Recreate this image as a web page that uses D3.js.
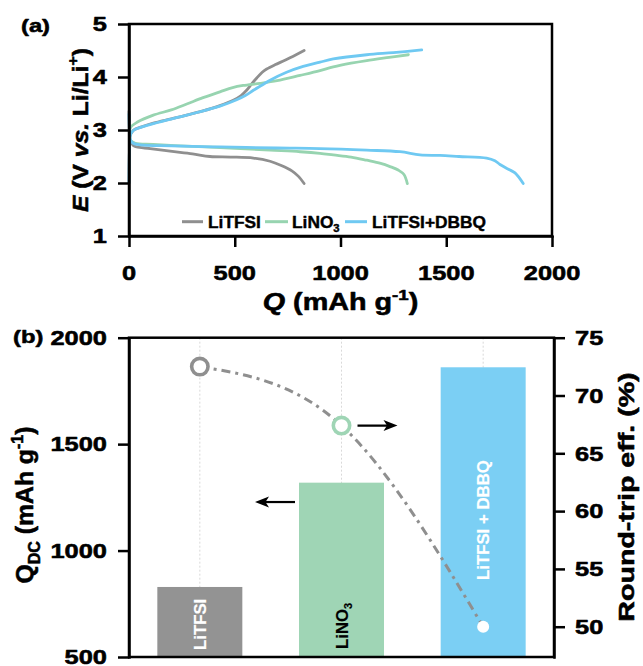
<!DOCTYPE html>
<html><head><meta charset="utf-8">
<script src="https://cdn.jsdelivr.net/npm/d3@7"></script>
<style>
body{margin:0;background:#fff}
svg{display:block}
text{font-family:"Liberation Sans",Arial,Helvetica,sans-serif;font-weight:700;fill:#000}
</style>
</head><body>
<svg id="chart" width="643" height="666"></svg>
<script>
// ---------------- DATA ----------------
// panel (a): E vs Q curves, [Q (mAh/g), E (V)]
const qTicks = [0, 500, 1000, 1500, 2000];
const eTicks = [1, 2, 3, 4, 5];
const seriesNames = ["LiTFSI", "LiNO3", "LiTFSI+DBBQ"];

const litfsiCharge = [[0,2.0],[2,2.6],[5,2.88],[20,2.99],[60,3.06],[115,3.13],[200,3.21],[273,3.28],[350,3.36],[430,3.46],[493,3.56],[530,3.65],[556,3.75],[580,3.87],[604,3.98],[630,4.09],[651,4.15],[690,4.23],[740,4.32],[790,4.42],[828,4.5]];
const litfsiDischarge = [[0,3.35],[2,3.0],[6,2.8],[20,2.71],[36,2.68],[100,2.65],[194,2.6],[300,2.55],[383,2.5],[480,2.49],[588,2.47],[667,2.41],[720,2.33],[770,2.23],[800,2.13],[828,1.99]];

const lino3Charge = [[2,2.9],[8,3.05],[40,3.15],[115,3.28],[200,3.38],[273,3.49],[350,3.61],[430,3.72],[490,3.8],[540,3.84],[620,3.88],[700,3.93],[809,4.03],[903,4.12],[966,4.19],[1050,4.26],[1124,4.31],[1230,4.37],[1321,4.42]];
const lino3Discharge = [[2,2.95],[8,2.8],[30,2.75],[115,2.73],[300,2.69],[430,2.67],[667,2.62],[809,2.59],[903,2.56],[966,2.53],[1050,2.49],[1124,2.43],[1190,2.37],[1234,2.31],[1275,2.24],[1300,2.16],[1316,1.99]];

const dbbqCharge = [[0,2.0],[2,2.6],[5,2.88],[20,2.99],[115,3.12],[273,3.28],[430,3.45],[509,3.57],[550,3.65],[588,3.75],[630,3.85],[667,3.94],[745,4.09],[809,4.18],[903,4.28],[966,4.34],[1124,4.42],[1250,4.46],[1384,4.51]];
const dbbqDischarge = [[0,3.3],[2,3.0],[6,2.82],[20,2.75],[52,2.72],[200,2.7],[430,2.68],[700,2.66],[903,2.65],[1124,2.62],[1281,2.59],[1376,2.53],[1470,2.52],[1560,2.5],[1691,2.47],[1730,2.42],[1754,2.35],[1794,2.26],[1825,2.19],[1864,1.99]];

// panel (b)
const electrolytes = ["LiTFSI", "LiNO3", "LiTFSI + DBBQ"];
const dischargeCapacity = [829, 1319, 1861];   // mAh/g
const roundTripEff = [72.5, 67.4, 50.0];        // %
const capTicks = [500, 1000, 1500, 2000];
const effTicks = [50, 55, 60, 65, 70, 75];

// ---------------- STYLE ----------------
const lineColors = ["#8f8f8f", "#97d4b0", "#6fc9f2"];
const barColors  = ["#939393", "#9fd5b5", "#7bcff4"];
const SX = 1.27; // horizontal glyph stretch of the original font

const svg = d3.select("#chart");

function rich(sel, parts, size) {
  let shift = 0;
  parts.forEach(p => {
    const ts = sel.append("tspan").text(p.t);
    let target = 0, fs = size;
    if (p.sup) { target = -0.42 * size; fs = size * 0.65; }
    if (p.sub) { target = 0.28 * size; fs = size * 0.65; }
    ts.attr("font-size", fs).attr("dy", target - shift);
    if (p.italic) ts.attr("font-style", "italic");
    shift = target;
  });
  return sel;
}
function label(x, y, parts, size, opts = {}) {
  const s = opts.sx || SX;
  const rot = opts.rotate ? ` rotate(${opts.rotate})` : "";
  const fill = opts.fill || "#000";
  const t = svg.append("text")
    .attr("x", 0).attr("y", 0)
    .attr("text-anchor", opts.anchor || "middle")
    .attr("font-size", size)
    .attr("font-weight", "bold")
    .attr("transform", `translate(${x},${y})${rot} scale(${s},1)`)
    .style("fill", fill)
    .style("stroke", fill)
    .style("stroke-width", opts.sw === undefined ? 0.55 : opts.sw)
    .style("stroke-linejoin", "round");
  if (typeof parts === "string") t.text(parts); else rich(t, parts, size);
  return t;
}

// ================= PANEL (a) =================
const ax = { l: 129, r: 552, t: 24, b: 236 };
const xQ = d3.scaleLinear().domain([0, 2000]).range([ax.l, ax.r]);
const yE = d3.scaleLinear().domain([1, 5]).range([ax.b, ax.t]);

const gA = svg.append("g");
const lineA = d3.line().x(d => xQ(d[0])).y(d => yE(d[1])).curve(d3.curveCatmullRom.alpha(0.5));
const curves = [
  [litfsiCharge, 0], [litfsiDischarge, 0],
  [lino3Charge, 1], [lino3Discharge, 1],
  [dbbqCharge, 2], [dbbqDischarge, 2]
];
curves.forEach(([data, ci]) => {
  gA.append("path").datum(data).attr("d", lineA)
    .attr("fill", "none").attr("stroke", lineColors[ci])
    .attr("stroke-width", 2.8).attr("stroke-linejoin", "round").attr("stroke-linecap", "round");
});

// frame
svg.append("rect").attr("x", ax.l).attr("y", ax.t).attr("width", ax.r - ax.l).attr("height", ax.b - ax.t)
  .attr("fill", "none").attr("stroke", "#000").attr("stroke-width", 2.5);

const axStyle = g => { g.selectAll("path,line").attr("stroke", "#000").attr("stroke-width", 2.5); g.select(".domain").attr("stroke-linecap","square"); };
svg.append("g").attr("transform", `translate(0,${ax.b})`)
  .call(d3.axisBottom(xQ).tickValues(qTicks).tickSize(11).tickSizeOuter(0).tickFormat(""))
  .call(axStyle);
svg.append("g").attr("transform", `translate(${ax.l},0)`)
  .call(d3.axisLeft(yE).tickValues(eTicks).tickSize(11).tickSizeOuter(0).tickFormat(""))
  .call(axStyle);

qTicks.forEach(v => label(xQ(v), 279.5, String(v), 20, { anchor: "middle" }));
eTicks.forEach(v => label(107, yE(v) + 7.2, String(v), 20, { anchor: "end" }));

label(340.5, 310, [{ t: "Q", italic: true }, { t: " (mAh g" }, { t: "-1", sup: true }, { t: ")" }], 23, { sx: 1.25 });
label(87.5, (ax.t + ax.b) / 2, [{ t: "E", italic: true }, { t: " (V " }, { t: "vs.", italic: true }, { t: " Li/Li" }, { t: "+", sup: true }, { t: ")" }], 22, { rotate: -90, sx: 1.12 });
label(21, 32, "(a)", 19, { anchor: "start", sx: 1.25 });

// legend
const legY = 221.7;
const legItems = [
  { x1: 182, x2: 203, tx: 208, parts: [{ t: "LiTFSI" }] },
  { x1: 265, x2: 288, tx: 292, parts: [{ t: "LiNO" }, { t: "3", sub: true }] },
  { x1: 345, x2: 367, tx: 372, parts: [{ t: "LiTFSI+DBBQ" }] }
];
legItems.forEach((it, i) => {
  svg.append("line").attr("x1", it.x1).attr("x2", it.x2).attr("y1", legY).attr("y2", legY)
    .attr("stroke", lineColors[i]).attr("stroke-width", 3);
  label(it.tx, legY + 6, it.parts, 16.5, { anchor: "start", sx: 1.05, sw: 0.4 });
});

// ================= PANEL (b) =================
const bx = { l: 129, r: 554, t: 337.7, b: 657 };
const xB = d3.scaleBand().domain(electrolytes).range([bx.l, bx.r]).paddingInner(0.4).paddingOuter(0.2);
const yCap = d3.scaleLinear().domain([500, 2000]).range([bx.b, bx.t]);
const yEff = d3.scaleLinear().domain([47.38, 75]).range([bx.b, bx.t]);
const cx = d => xB(d) + xB.bandwidth() / 2;

// vertical dotted guides
electrolytes.forEach(e => {
  svg.append("line").attr("x1", cx(e)).attr("x2", cx(e)).attr("y1", bx.t).attr("y2", bx.b)
    .attr("stroke", "#cfcfcf").attr("stroke-width", 0.8).attr("stroke-dasharray", "2,2");
});

// bars
svg.append("g").selectAll("rect").data(electrolytes).join("rect")
  .attr("x", d => xB(d)).attr("width", xB.bandwidth())
  .attr("y", (d, i) => yCap(dischargeCapacity[i]))
  .attr("height", (d, i) => bx.b - yCap(dischargeCapacity[i]))
  .attr("fill", (d, i) => barColors[i]);

// bar labels
const barLabelParts = [[{ t: "LiTFSI" }], [{ t: "LiNO" }, { t: "3", sub: true }], [{ t: "LiTFSI + DBBQ" }]];
const barLabelFill = ["#ffffff", "#000000", "#ffffff"];
const barLabelBase = [bx.b - 7, bx.b - 8, bx.b - 77];
electrolytes.forEach((e, i) => {
  label(cx(e) + 6, barLabelBase[i], barLabelParts[i], 16, { anchor: "start", rotate: -90, sx: 1.05, fill: barLabelFill[i], sw: 0.2 });
});

// efficiency curve
const effPts = electrolytes.map((e, i) => [cx(e), yEff(roundTripEff[i])]);
svg.append("path").datum(effPts)
  .attr("d", d3.line().curve(d3.curveNatural))
  .attr("fill", "none").attr("stroke", "#8f8f8f").attr("stroke-width", 3)
  .attr("stroke-dasharray", "9,5,3,5");

// markers
svg.append("circle").attr("cx", effPts[0][0]).attr("cy", effPts[0][1]).attr("r", 8.2)
  .attr("fill", "#fff").attr("stroke", lineColors[0]).attr("stroke-width", 3.6);
svg.append("circle").attr("cx", effPts[1][0]).attr("cy", effPts[1][1]).attr("r", 8.2)
  .attr("fill", "#fff").attr("stroke", "#9fd5b5").attr("stroke-width", 3.6);
svg.append("circle").attr("cx", effPts[2][0]).attr("cy", effPts[2][1]).attr("r", 6)
  .attr("fill", "#fff");

// arrows
function arrow(x1, x2, y) {
  const dir = Math.sign(x2 - x1), hl = 14, hw = 5.5;
  svg.append("line").attr("x1", x1).attr("x2", x2 - dir * hl * 0.6).attr("y1", y).attr("y2", y)
    .attr("stroke", "#000").attr("stroke-width", 2.2);
  svg.append("path").attr("d", `M${x2},${y}L${x2 - dir * hl},${y - hw}L${x2 - dir * hl * 0.75},${y}L${x2 - dir * hl},${y + hw}Z`)
    .attr("fill", "#000");
}
arrow(xB(electrolytes[1]) - 4, xB(electrolytes[1]) - 44, yCap(1228));
arrow(effPts[1][0] + 16, effPts[1][0] + 56, effPts[1][1]);

// frame and axes
svg.append("rect").attr("x", bx.l).attr("y", bx.t).attr("width", bx.r - bx.l).attr("height", bx.b - bx.t)
  .attr("fill", "none").attr("stroke", "#000").attr("stroke-width", 2.5);
svg.append("g").attr("transform", `translate(${bx.l},0)`)
  .call(d3.axisLeft(yCap).tickValues(capTicks).tickSize(11).tickSizeOuter(0).tickFormat(""))
  .call(axStyle);
svg.append("g").attr("transform", `translate(${bx.r},0)`)
  .call(d3.axisRight(yEff).tickValues(effTicks).tickSize(11).tickSizeOuter(0).tickFormat(""))
  .call(axStyle);

capTicks.forEach(v => label(107, yCap(v) + 7.2, String(v), 20, { anchor: "end" }));
effTicks.forEach(v => label(575, yEff(v) + 7.2, String(v), 20, { anchor: "start" }));

label(33, 505, [{ t: "Q" }, { t: "DC", sub: true }, { t: " (mAh g" }, { t: "-1", sup: true }, { t: ")" }], 24, { rotate: -90, sx: 1.03 });
label(634, 497, "Round-trip eff. (%)", 22, { rotate: -90, sx: 1.3 });
label(13, 343, "(b)", 19, { anchor: "start", sx: 1.25 });
</script>
</body></html>
